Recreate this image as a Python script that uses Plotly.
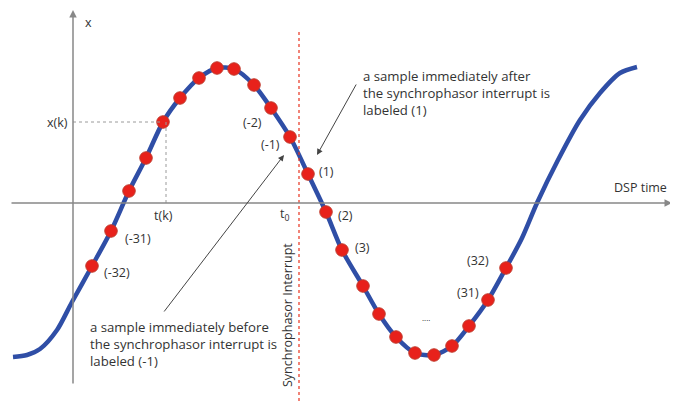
import plotly.graph_objects as go

# Continuous signal (time, value)
curve_t = [-60, -46, -33, -16, -1, 19, 38, 56, 73, 90, 107, 126, 144, 161, 181, 198, 217, 235,
           253, 269, 290, 306, 323, 342, 361, 379, 396, 415, 433, 449, 464, 485, 507, 527, 547, 564]
curve_x = [-154, -152, -146, -127, -99, -63, -28, 12, 45, 81, 105, 125, 135, 134, 118, 95, 66, 29,
           -9, -47, -83, -111, -134, -150, -152, -143, -123, -97, -65, -35, 0, 43, 83, 110, 130, 136]

# Red sample points (time, value)
sample_t = [19, 38, 56, 73, 90, 107, 126, 144, 161, 181, 198, 217, 235,
            253, 269, 290, 306, 323, 342, 361, 379, 396, 415, 433]
sample_x = [-63, -28, 12, 45, 81, 105, 125, 135, 134, 118, 95, 66, 29,
            -9, -47, -83, -111, -134, -150, -152, -143, -123, -97, -65]

# Sample labels
label_text = ["(-32)", "(-31)", "(-2)", "(-1)", "(1)", "(2)", "(3)", "(32)", "(31)"]
label_t = [44, 65, 179, 197, 253, 272, 289, 405, 395]
label_x = [-69, -35, 81, 59, 32, -12, -44, -57, -89]

k_index = 4          # the sample marked x(k), t(k)
t0 = 226             # synchrophasor interrupt time

FONT = "Open Sans"
TXT = "#333333"
FS = 12.5

fig = go.Figure()
fig.add_trace(go.Scatter(x=curve_t, y=curve_x, mode="lines",
                         line=dict(color="#2f4ea6", width=4.5, shape="spline", smoothing=0.8),
                         hoverinfo="skip", showlegend=False))
fig.add_trace(go.Scatter(x=sample_t, y=sample_x, mode="markers",
                         marker=dict(color="#e8211b", size=12.5, line=dict(color="#c0392b", width=1)),
                         showlegend=False))

tk, xk = sample_t[k_index], sample_x[k_index]
shapes = [
    dict(type="line", x0=0, x1=tk, y0=xk, y1=xk, line=dict(color="#9a9a9a", width=1, dash="dot")),
    dict(type="line", x0=tk + 3, x1=tk + 3, y0=xk, y1=0, line=dict(color="#9a9a9a", width=1, dash="dot")),
    dict(type="line", x0=t0, x1=t0, y0=171, y1=-199, line=dict(color="#e8321f", width=1.2, dash="dot")),
]

ann = []
# axes with arrows
ann.append(dict(x=599, y=0, ax=-63, ay=0, xref="x", yref="y", axref="x", ayref="y", text="",
                showarrow=True, arrowhead=2, arrowsize=1, arrowwidth=1.5, arrowcolor="#888888"))
ann.append(dict(x=0, y=193, ax=0, ay=-182, xref="x", yref="y", axref="x", ayref="y", text="",
                showarrow=True, arrowhead=2, arrowsize=1, arrowwidth=1.5, arrowcolor="#888888"))
for lab, t, x in zip(label_text, label_t, label_x):
    ann.append(dict(x=t, y=x, text=lab, showarrow=False, font=dict(family=FONT, size=FS, color=TXT)))
ann.append(dict(x=353, y=-114, text="....", showarrow=False, font=dict(family=FONT, size=8, color="#222222")))
ann.append(dict(x=15, y=181, text="x", showarrow=False, font=dict(family=FONT, size=FS, color=TXT)))
ann.append(dict(x=-3, y=81, text="x(k)", showarrow=False, xanchor="right", font=dict(family=FONT, size=FS, color=TXT)))
ann.append(dict(x=tk, y=-12, text="t(k)", showarrow=False, font=dict(family=FONT, size=FS, color=TXT)))
ann.append(dict(x=t0 - 15, y=-11, text="t<sub>0</sub>", showarrow=False, font=dict(family=FONT, size=FS, color=TXT)))
ann.append(dict(x=567, y=16, text="DSP time", showarrow=False, font=dict(family=FONT, size=FS, color=TXT)))
ann.append(dict(x=t0 - 12, y=-112, text="Synchrophasor Interrupt", textangle=-90, showarrow=False,
                font=dict(family=FONT, size=FS, color=TXT)))
ann.append(dict(x=288, y=110, xanchor="left", align="left", showarrow=False,
                text="a sample immediately after<br>the synchrophasor interrupt is<br>labeled (1)",
                font=dict(family=FONT, size=13.2, color=TXT)))
ann.append(dict(x=15, y=-141, xanchor="left", align="left", showarrow=False,
                text="a sample immediately before<br>the synchrophasor interrupt is<br>labeled (-1)",
                font=dict(family=FONT, size=13.2, color=TXT)))
# pointer arrows
ann.append(dict(x=244, y=48, ax=284, ay=120, xref="x", yref="y", axref="x", ayref="y", text="",
                showarrow=True, arrowhead=2, arrowsize=1.2, arrowwidth=1, arrowcolor="#444444"))
ann.append(dict(x=211, y=48, ax=90, ay=-110, xref="x", yref="y", axref="x", ayref="y", text="",
                showarrow=True, arrowhead=2, arrowsize=1.2, arrowwidth=1, arrowcolor="#444444"))

# the page body has an 8px margin, so the figure is 8px smaller and its ranges start 8 units in
fig.update_layout(
    width=670, height=394, margin=dict(l=0, r=0, t=0, b=0),
    paper_bgcolor="white", plot_bgcolor="white",
    xaxis=dict(range=[-65, 605], visible=False, fixedrange=True),
    yaxis=dict(range=[-199, 195], visible=False, fixedrange=True),
    shapes=shapes, annotations=ann, showlegend=False,
)
fig.write_html("out.html")
